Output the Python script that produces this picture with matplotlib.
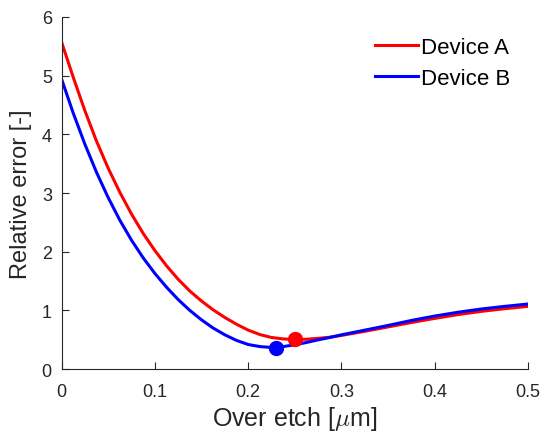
import numpy as np
import matplotlib
matplotlib.use('Agg')
import matplotlib.pyplot as plt

# over etch [um]
over_etch = [0, 0.0125, 0.025, 0.0375, 0.05, 0.0625, 0.075, 0.0875, 0.1,
             0.1125, 0.125, 0.1375, 0.15, 0.1625, 0.175, 0.1875, 0.2,
             0.2125, 0.225, 0.2375, 0.25, 0.2625, 0.275, 0.2875, 0.3,
             0.325, 0.35, 0.375, 0.4, 0.425, 0.45, 0.475, 0.5]

err_a = [5.57, 4.97, 4.40, 3.88, 3.42, 3.01, 2.64, 2.31, 2.02,
         1.76, 1.53, 1.33, 1.16, 1.01, 0.88, 0.765, 0.665,
         0.59, 0.54, 0.515, 0.505, 0.51, 0.525, 0.545, 0.575,
         0.645, 0.72, 0.795, 0.865, 0.93, 0.985, 1.03, 1.07]

err_b = [4.94, 4.36, 3.83, 3.35, 2.92, 2.535, 2.195, 1.895, 1.63,
         1.395, 1.185, 1.00, 0.84, 0.70, 0.585, 0.49, 0.42,
         0.385, 0.37, 0.385, 0.415, 0.455, 0.50, 0.54, 0.585,
         0.665, 0.745, 0.83, 0.905, 0.97, 1.025, 1.07, 1.11]

# optimum points
opt_x = [0.25, 0.23]
opt_y = [0.51, 0.365]

plt.rcParams['font.family'] = ['Liberation Sans', 'DejaVu Sans']
plt.rcParams['mathtext.fontset'] = 'cm'

fig = plt.figure(figsize=(5.45, 4.35), dpi=100)
ax = fig.add_axes([0.113, 0.149, 0.856, 0.81])

ax.plot(over_etch, err_a, color='#ff0000', lw=2.2, label='Device A')
ax.plot(over_etch, err_b, color='#0000ff', lw=2.2, label='Device B')
ax.plot(opt_x[0], opt_y[0], 'o', color='#ff0000', ms=10)
ax.plot(opt_x[1], opt_y[1], 'o', color='#0000ff', ms=10)

ax.set_xlim(0, 0.5)
ax.set_ylim(0, 6)
ax.set_xticks([0, 0.1, 0.2, 0.3, 0.4, 0.5])
ax.set_xticklabels(['0', '0.1', '0.2', '0.3', '0.4', '0.5'])
ax.set_yticks([0, 1, 2, 3, 4, 5, 6])

for s in ['top', 'right']:
    ax.spines[s].set_visible(False)
for s in ['left', 'bottom']:
    ax.spines[s].set_color('#262626')
    ax.spines[s].set_linewidth(0.8)
ax.tick_params(direction='in', length=5, width=0.8, colors='#262626',
               labelsize=13)
ax.tick_params(axis='x', pad=10)
ax.tick_params(axis='y', pad=7)

ax.set_xlabel('Over etch [$\\mu$m]', fontsize=18, color='#262626', labelpad=3)
ax.set_ylabel('Relative error [-]', fontsize=17, color='#262626', labelpad=7)

ax.legend(loc='upper left', frameon=False, fontsize=16, handlelength=1.95,
          handletextpad=0.12, labelspacing=0.45, borderpad=0, borderaxespad=0,
          bbox_to_anchor=(375 / 545, 1 - 38 / 435),
          bbox_transform=fig.transFigure)

fig.savefig('out.png', dpi=100)
